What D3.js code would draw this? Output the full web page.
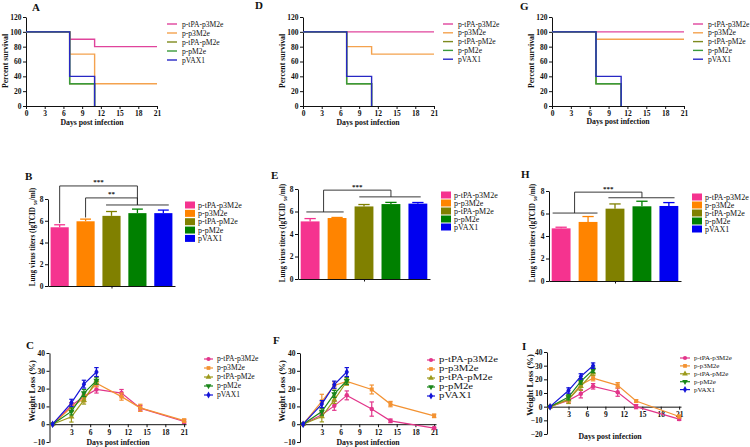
<!DOCTYPE html>
<html><head><meta charset="utf-8">
<script src="https://cdn.jsdelivr.net/npm/d3@7"></script>
<style>
body{margin:0;background:#fff}
svg{display:block}
text{font-family:"Liberation Serif","Times New Roman",serif;fill:#111}
</style>
</head><body>
<svg id="chart" width="750" height="447"></svg>
<script>
// ---------------- DATA ----------------
const groups = ["p-tPA-p3M2e", "p-p3M2e", "p-tPA-pM2e", "p-pM2e", "pVAX1"];

// Survival (%) at days survDays (series that reach 0 stop at that day)
const survDays = [0, 7, 11, 21];
const survA = [[100, 90, 80, 80], [100, 70, 30, 30], [100, 30, 0], [100, 30, 0], [100, 40, 0]];
const survD = [[100, 100, 100, 100], [100, 80, 70, 70], [100, 30, 0], [100, 30, 0], [100, 40, 0]];
const survG = [[100, 100, 100, 100], [100, 90, 90, 90], [100, 30, 0], [100, 30, 0], [100, 40, 0]];
const survTicks = [0, 20, 40, 60, 80, 100, 120];
const dayTicks = [0, 3, 6, 9, 12, 15, 18, 21];

// Lung virus titers (lgTCID50/ml): mean and SD
const titerB = [5.4, 5.95, 6.45, 6.7, 6.7];
const titerBErr = [0.23, 0.2, 0.4, 0.37, 0.28];
const titerE = [5.12, 5.42, 6.45, 6.66, 6.7];
const titerEErr = [0.25, 0.05, 0.17, 0.15, 0.1];
const titerH = [4.68, 5.25, 6.43, 6.64, 6.67];
const titerHErr = [0.1, 0.48, 0.42, 0.45, 0.3];
const titerTicks = [0, 2, 4, 6, 8];

// Weight loss (%) at days wlDays, mean and SD
const wlDays = [0, 3, 5, 7, 11, 14, 21];
const wlC = [
  [0, 10.5, 15.5, 19.5, 17.5, 9, 1.5],
  [0, 9.5, 14.5, 23, 15.5, 9.2, 2],
  [0, 4.2, 13.5, 24.5],
  [0, 7.2, 17.5, 24.5],
  [0, 12, 22.5, 29.3]];
const wlCErr = [
  [0, 1.5, 1.5, 2, 2, 1.5, 1],
  [0, 2, 2, 2, 2, 2, 1],
  [0, 3, 2.2, 2],
  [0, 2, 2, 2],
  [0, 2, 2.2, 2.5]];
const wlF = [
  [0, 5.3, 10.3, 16.2, 8.5, 1.9, -2.2],
  [0, 12.8, 21.8, 24, 19.5, 11.3, 4.7],
  [0, 4.3, 13.7, 24],
  [0, 7.1, 17, 24.4],
  [0, 11.3, 22.2, 29.3]];
const wlFErr = [
  [0, 1.5, 2.5, 2.5, 4, 1, 0.5],
  [0, 4, 2, 2, 2.5, 1.5, 1],
  [0, 3, 2, 2],
  [0, 2, 2, 2],
  [0, 2, 2, 2.5]];
const wlI = [
  [0, 4.6, 9.4, 14.9, 10.6, 0, -9.1],
  [0, 5.3, 16, 20.9, 15.6, 4.1, -7.2],
  [0, 5.3, 14.9, 25],
  [0, 7, 18.5, 26.9],
  [0, 11.8, 22.1, 30]];
const wlIErr = [
  [0, 2, 3, 2, 3, 1.5, 1],
  [0, 2, 2, 2, 2, 1, 1],
  [0, 3, 3, 2],
  [0, 2, 2, 2],
  [0, 2, 2, 2]];
const wlTicks = [-10, 0, 10, 20, 30, 40];
const wlTicksI = [-20, -10, 0, 10, 20, 30, 40];
const wlDayTicks = [3, 6, 9, 12, 15, 18, 21];

// ---------------- STYLE ----------------
const survColors = ["#e0449c", "#f4a24e", "#7e8a1e", "#3a9a3a", "#2828c4"];
const barColors = ["#f5338f", "#ff8400", "#808000", "#008000", "#0000f0"];
const wlColors = ["#e2358a", "#f39232", "#9c9a1c", "#1a861a", "#1414d8"];
const symbols = [d3.symbolCircle, d3.symbolSquare, d3.symbolTriangle, "down", d3.symbolDiamond];

const svg = d3.select("#chart");
const TICK_FS = 7.5, LAB_FS = 7.8, LEG_FS = 7.6;

function styleAxis(g) {
  g.selectAll("path,line").attr("stroke", "#111").attr("stroke-width", 1);
  g.selectAll("text").attr("font-size", TICK_FS).attr("font-weight", "bold")
    .attr("font-family", "Liberation Serif, serif").attr("fill", "#111");
}
function title(t, x, y) {
  svg.append("text").attr("x", x).attr("y", y).attr("font-size", 11).attr("font-weight", "bold").text(t);
}
function ylabel(t, x, y, fs) {
  const el = svg.append("text").attr("transform", `translate(${x},${y}) rotate(-90)`)
    .attr("text-anchor", "middle").attr("font-size", fs || LAB_FS).attr("font-weight", "bold");
  return el.text(t);
}
function xlabel(t, x, y) {
  svg.append("text").attr("x", x).attr("y", y).attr("text-anchor", "middle")
    .attr("font-size", LAB_FS).attr("font-weight", "bold").text(t);
}
function symPath(i, size) {
  if (symbols[i] === "down") return d3.symbol(d3.symbolTriangle, size)();
  return d3.symbol(symbols[i], size)();
}
function symTransform(i, x, y) {
  return `translate(${x},${y})` + (symbols[i] === "down" ? " rotate(180)" : "");
}

// ---------------- SURVIVAL ----------------
function survival(p) {
  const x = d3.scaleLinear().domain([0, 21]).range(p.xr);
  const y = d3.scaleLinear().domain([0, 120]).range(p.yr);
  svg.append("g").attr("transform", `translate(0,${p.yr[0]})`)
    .call(d3.axisBottom(x).tickValues(dayTicks).tickSize(3).tickPadding(2).tickSizeOuter(0)).call(styleAxis);
  svg.append("g").attr("transform", `translate(${p.xr[0]},0)`)
    .call(d3.axisLeft(y).tickValues(survTicks).tickSize(3).tickPadding(1.5).tickSizeOuter(0)).call(styleAxis);
  const line = d3.line().x(d => x(d[0])).y(d => y(d[1])).curve(d3.curveStepAfter);
  p.data.forEach((s, i) => {
    const pts = s.map((v, j) => [survDays[j], v]);
    svg.append("path").attr("d", line(pts)).attr("fill", "none")
      .attr("stroke", survColors[i]).attr("stroke-width", 1.4);
  });
  groups.forEach((gname, i) => {
    const yy = p.leg[1] + i * p.leg[2];
    svg.append("line").attr("x1", p.leg[0]).attr("x2", p.leg[0] + 10).attr("y1", yy).attr("y2", yy)
      .attr("stroke", survColors[i]).attr("stroke-width", 1.4);
    svg.append("text").attr("x", p.leg[0] + 15).attr("y", yy + 2.6).attr("font-size", LEG_FS).text(gname);
  });
  title(p.title, p.tpos[0], p.tpos[1]);
  ylabel("Percent survival", p.ylab[0], p.ylab[1]);
  xlabel("Days post infection", p.xlab[0], p.xlab[1]);
}
survival({data: survA, xr: [26, 157], yr: [106, 17], leg: [167, 24, 9], title: "A", tpos: [32, 11], ylab: [7.5, 61], xlab: [92, 125]});
survival({data: survD, xr: [303, 434], yr: [106, 17], leg: [443, 24, 8.8], title: "D", tpos: [255, 9], ylab: [285, 61], xlab: [368, 125]});
survival({data: survG, xr: [552, 684], yr: [106, 17], leg: [693, 24, 8.8], title: "G", tpos: [520, 10], ylab: [534, 61], xlab: [618, 124]});

// ---------------- TITERS ----------------
function titers(p) {
  const x = d3.scaleBand().domain(groups).range(p.xr).paddingInner(0.3).paddingOuter(0.1);
  const y = d3.scaleLinear().domain([0, 8]).range(p.yr);
  const bw = x.bandwidth();
  const xi = i => x(groups[i]);
  p.vals.forEach((v, i) => {
    const cx = xi(i) + bw / 2;
    svg.append("line").attr("x1", cx).attr("x2", cx).attr("y1", y(v)).attr("y2", y(v + p.err[i]))
      .attr("stroke", barColors[i]).attr("stroke-width", 1.3);
    svg.append("line").attr("x1", cx - bw * 0.3).attr("x2", cx + bw * 0.3).attr("y1", y(v + p.err[i])).attr("y2", y(v + p.err[i]))
      .attr("stroke", barColors[i]).attr("stroke-width", 1.3);
    svg.append("rect").attr("x", xi(i)).attr("y", y(v)).attr("width", bw).attr("height", y(0) - y(v))
      .attr("fill", barColors[i]);
  });
  const ax = svg.append("g").attr("transform", `translate(0,${p.yr[0]})`)
    .call(d3.axisBottom(d3.scaleLinear().domain([0, 1]).range(p.xr)).tickValues([0.5]).tickSize(2.5).tickFormat("").tickSizeOuter(0));
  styleAxis(ax);
  svg.append("g").attr("transform", `translate(${p.xr[0]},0)`)
    .call(d3.axisLeft(y).tickValues(titerTicks).tickSize(3).tickPadding(1.5).tickSizeOuter(0)).call(styleAxis);
  // significance brackets
  const ln = (x1, y1, x2, y2) => svg.append("line").attr("x1", x1).attr("y1", y1).attr("x2", x2).attr("y2", y2)
    .attr("stroke", "#222").attr("stroke-width", 0.9);
  p.sig.forEach(s => {
    const lx = s.lx(xi, bw), rx = s.rx(xi, bw);
    ln(lx, y(s.top), rx, y(s.top));
    ln(lx, y(s.top), lx, y(s.ly));
    ln(rx, y(s.top), rx, y(s.ry));
    if (s.lspan) ln(s.lspan[0](xi, bw), y(s.ly), s.lspan[1](xi, bw), y(s.ly));
    if (s.rspan) ln(s.rspan[0](xi, bw), y(s.ry), s.rspan[1](xi, bw), y(s.ry));
    svg.append("text").attr("x", (lx + rx) / 2).attr("y", y(s.top) - 1.5).attr("text-anchor", "middle")
      .attr("font-size", 7).attr("font-weight", "bold").text(s.label);
  });
  groups.forEach((gname, i) => {
    const yy = p.leg[1] + i * p.leg[2];
    svg.append("rect").attr("x", p.leg[0]).attr("y", yy - 3.5).attr("width", 10).attr("height", 7).attr("fill", barColors[i]);
    svg.append("text").attr("x", p.leg[0] + 13).attr("y", yy + 2.6).attr("font-size", LEG_FS + 0.4).text(gname);
  });
  title(p.title, p.tpos[0], p.tpos[1]);
  const yl = svg.append("text").attr("transform", `translate(${p.ylab[0]},${p.ylab[1]}) rotate(-90)`)
    .attr("text-anchor", "middle").attr("font-size", 7.2).attr("font-weight", "bold");
  yl.append("tspan").text("Lung virus titers (lgTCID ");
  yl.append("tspan").attr("font-size", 5).attr("dy", 1.5).text("50");
  yl.append("tspan").attr("dy", -1.5).text("/ml)");
}
const ctr = i => (xi, bw) => xi(i) + bw / 2;
const frac = (i, f) => (xi, bw) => xi(i) + bw * f;
titers({vals: titerB, err: titerBErr, xr: [48, 175], yr: [286, 199], leg: [185, 205, 8.35], title: "B", tpos: [25, 180], ylab: [35, 237],
  sig: [
    {label: "***", top: 9.2, lx: ctr(0), ly: 5.78, rx: ctr(3), ry: 7.45, rspan: [frac(2, 0.2), frac(4, 0.8)]},
    {label: "**", top: 8.1, lx: ctr(1), ly: 6.3, rx: ctr(3), ry: 7.45}]});
titers({vals: titerE, err: titerEErr, xr: [298, 430], yr: [279, 189], leg: [441, 195, 8], title: "E", tpos: [271, 179], ylab: [285, 233],
  sig: [
    {label: "***", top: 7.9, lx: (xi, bw) => (xi(0) + bw + xi(1)) / 2, ly: 5.96, rx: ctr(3), ry: 7.3,
     lspan: [frac(0, 0.3), frac(1, 0.85)], rspan: [frac(2, 0.25), frac(4, 0.65)]}]});
titers({vals: titerH, err: titerHErr, xr: [549, 681], yr: [281, 191], leg: [692, 197, 8], title: "H", tpos: [521, 178], ylab: [535, 233],
  sig: [
    {label: "***", top: 7.9, lx: (xi, bw) => (xi(0) + bw + xi(1)) / 2, ly: 6.04, rx: ctr(3), ry: 7.4,
     lspan: [frac(0, 0.05), frac(1, 1.0)], rspan: [frac(2, 0.15), frac(4, 0.8)]}]});

// ---------------- WEIGHT LOSS ----------------
function weight(p) {
  const x = d3.scaleLinear().domain([-0.5, 21.3]).range(p.xr);
  const y = d3.scaleLinear().domain(p.ydom).range(p.yr);
  svg.append("g").attr("transform", `translate(0,${y(0)})`)
    .call(d3.axisBottom(x).tickValues(wlDayTicks).tickSize(3).tickPadding(2).tickSizeOuter(0)).call(styleAxis);
  svg.append("g").attr("transform", `translate(${p.xr[0]},0)`)
    .call(d3.axisLeft(y).tickValues(p.ticks).tickSize(3).tickPadding(1.5).tickSizeOuter(0)).call(styleAxis);
  const line = d3.line().x(d => x(d[0])).y(d => y(d[1]));
  p.data.forEach((s, i) => {
    const pts = s.map((v, j) => [wlDays[j], v, p.err[i][j]]);
    const g = svg.append("g");
    g.append("path").attr("d", line(pts)).attr("fill", "none").attr("stroke", wlColors[i]).attr("stroke-width", 1.2);
    pts.forEach(d => {
      if (d[2] > 0) {
        const cx = x(d[0]);
        g.append("line").attr("x1", cx).attr("x2", cx).attr("y1", y(d[1] - d[2])).attr("y2", y(d[1] + d[2]))
          .attr("stroke", wlColors[i]).attr("stroke-width", 1.2);
        [d[1] - d[2], d[1] + d[2]].forEach(e => g.append("line").attr("x1", cx - 2.2).attr("x2", cx + 2.2)
          .attr("y1", y(e)).attr("y2", y(e)).attr("stroke", wlColors[i]).attr("stroke-width", 1.2));
      }
      g.append("path").attr("d", symPath(i, 16)).attr("transform", symTransform(i, x(d[0]), y(d[1])))
        .attr("fill", wlColors[i]);
    });
  });
  groups.forEach((gname, i) => {
    const yy = p.leg[1] + i * p.leg[2];
    svg.append("line").attr("x1", p.leg[0]).attr("x2", p.leg[0] + p.leg[3]).attr("y1", yy).attr("y2", yy)
      .attr("stroke", wlColors[i]).attr("stroke-width", 1.2);
    svg.append("path").attr("d", symPath(i, 14)).attr("transform", symTransform(i, p.leg[0] + p.leg[3] / 2, yy)).attr("fill", wlColors[i]);
    svg.append("text").attr("transform", `translate(${p.leg[0] + p.leg[3] + 4},${yy + 2.4}) scale(${p.legScale},1)`)
      .attr("font-size", p.legFs).text(gname);
  });
  title(p.title, p.tpos[0], p.tpos[1]);
  ylabel("Weight Loss (%)", p.ylab[0], p.ylab[1], 8.6);
  xlabel("Days post infection", p.xlab[0], p.xlab[1]);
}
weight({data: wlC, err: wlCErr, xr: [49.5, 186], yr: [442, 353], ydom: [-10, 40], ticks: wlTicks,
  leg: [204, 359, 9, 9], legScale: 1.0, legFs: 7.6, title: "C", tpos: [26, 349], ylab: [35, 391], xlab: [118, 445]});
weight({data: wlF, err: wlFErr, xr: [300, 436], yr: [442, 353], ydom: [-10, 40], ticks: wlTicks,
  leg: [427, 360, 9, 8], legScale: 1.42, legFs: 7.6, title: "F", tpos: [273, 344], ylab: [285, 391], xlab: [368, 445]});
weight({data: wlI, err: wlIErr, xr: [547, 681], yr: [434, 352], ydom: [-20, 40], ticks: wlTicksI,
  leg: [680, 358, 7.9, 10], legScale: 1.05, legFs: 6.6, title: "I", tpos: [522, 350], ylab: [533, 385], xlab: [610, 439]});
</script>
</body></html>
